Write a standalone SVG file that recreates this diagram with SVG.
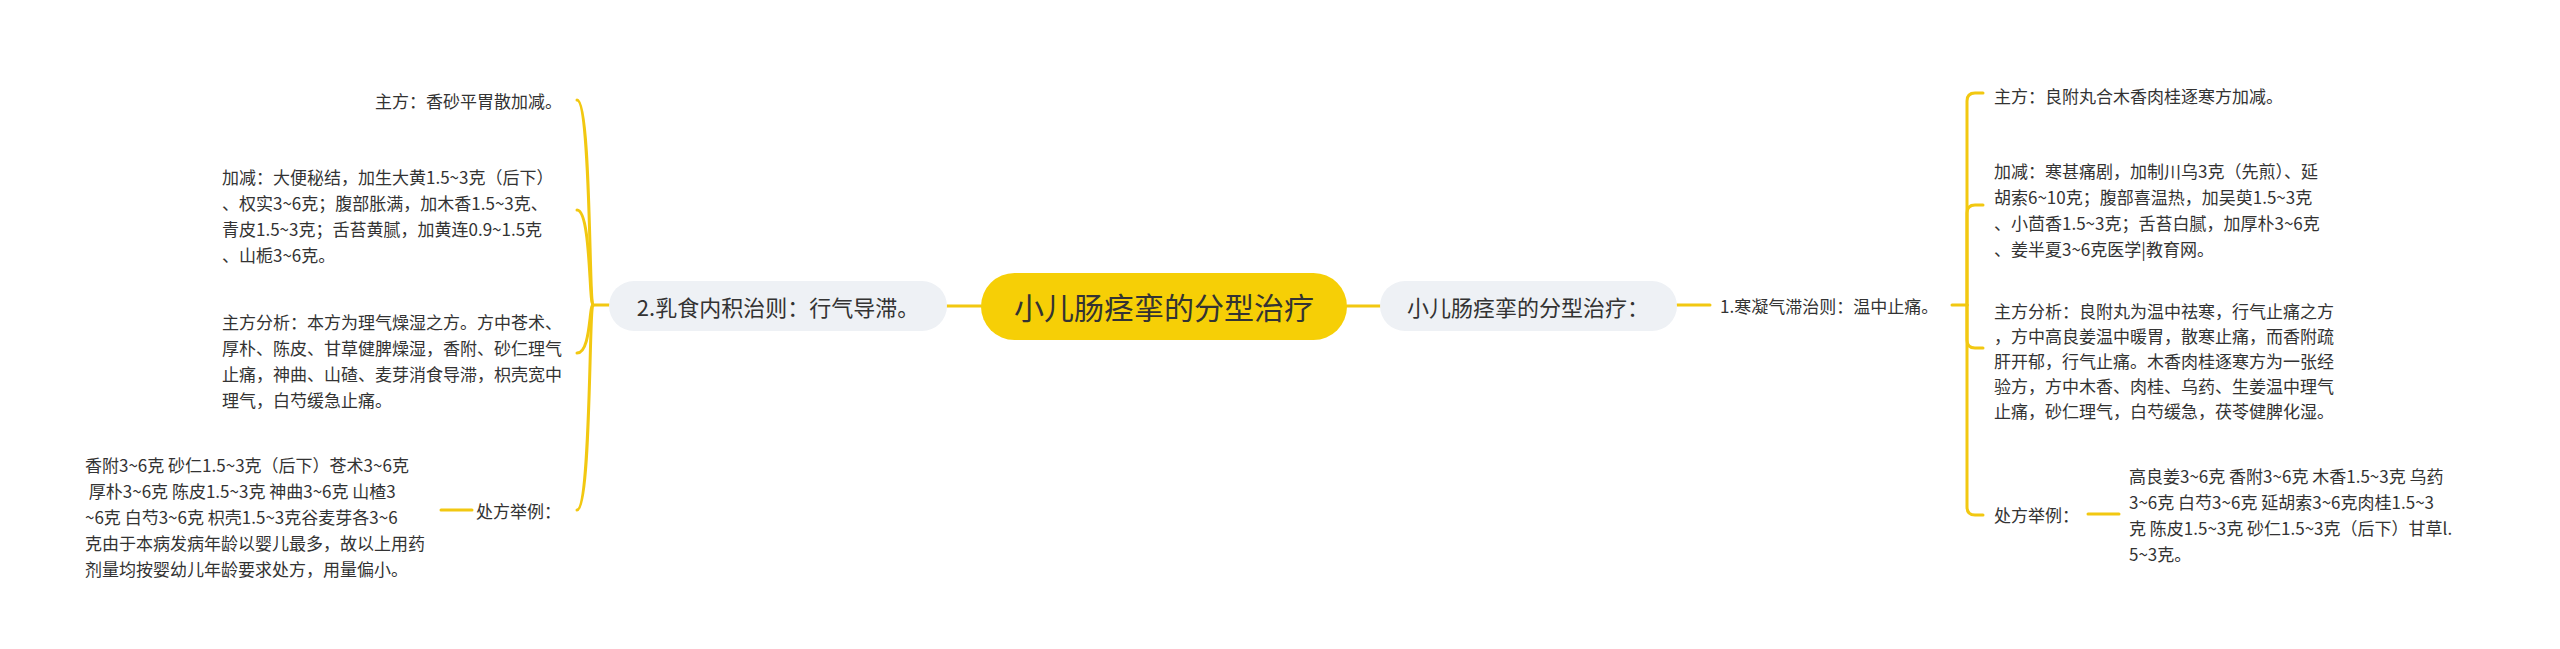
<svg xmlns="http://www.w3.org/2000/svg" width="2560" height="649" viewBox="0 0 2560 649">
<style>
text{font-family:"Noto Sans CJK SC","Liberation Sans",sans-serif;fill:#333;dominant-baseline:central;white-space:pre}
.t{font-size:17px}
.n{font-size:22px}
.c{font-size:30px}
.ln{fill:none;stroke:#F2C811;stroke-width:3;stroke-linecap:round}
.node{fill:#EEF1F5}
</style>
<rect width="2560" height="649" fill="#fff"/>
<g id="connectors">
<path class="ln" d="M947 306H981M1347 306H1380M1677 305H1710M1952 305H1967"/>
<path class="ln" d="M593 305H609"/>
<path class="ln" d="M593 305C589 305 591 100 577 100"/>
<path class="ln" d="M593 305C589 305 591 210 577 210"/>
<path class="ln" d="M593 305C589 305 591 353 577 353"/>
<path class="ln" d="M593 305C589 305 591 510 577 510"/>
<path class="ln" d="M1967 305V101Q1967 93 1975 93H1983"/>
<path class="ln" d="M1967 305V213Q1967 205 1975 205H1983"/>
<path class="ln" d="M1967 305V340Q1967 348 1975 348H1983"/>
<path class="ln" d="M1967 305V507Q1967 515 1975 515H1983"/>
<path class="ln" d="M441 510H472M2088 514H2119"/>
</g>
<g id="root">
<rect x="981" y="273" width="366" height="67" rx="33.5" fill="#F6CF06"/>
<text class="c" x="1164" y="306" text-anchor="middle">小儿肠痉挛的分型治疗</text>
</g>
<g id="left-branch">
<rect class="node" x="609" y="281" width="338" height="50" rx="25"/>
<text class="n" x="778" y="306" text-anchor="middle">2.乳食内积治则：行气导滞。</text>
</g>
<g id="right-branch">
<rect class="node" x="1380" y="281" width="297" height="50" rx="25"/>
<text class="n" x="1528" y="306" text-anchor="middle">小儿肠痉挛的分型治疗：</text>
</g>
<g id="r-sub">
<text class="t" x="1720" y="305">1.寒凝气滞治则：温中止痛。</text>
</g>
<g id="l-zhufang">
<text class="t" x="562" y="100" text-anchor="end">主方：香砂平胃散加减。</text>
</g>
<g id="l-jiajian">
<text class="t" x="222" y="176">加减：大便秘结，加生大黄1.5~3克（后下）</text>
<text class="t" x="222" y="202">、权实3~6克；腹部胀满，加木香1.5~3克、</text>
<text class="t" x="222" y="228">青皮1.5~3克；舌苔黄腻，加黄连0.9~1.5克</text>
<text class="t" x="222" y="254">、山栀3~6克。</text>
</g>
<g id="l-fenxi">
<text class="t" x="222" y="321">主方分析：本方为理气燥湿之方。方中苍术、</text>
<text class="t" x="222" y="347">厚朴、陈皮、甘草健脾燥湿，香附、砂仁理气</text>
<text class="t" x="222" y="373">止痛，神曲、山碴、麦芽消食导滞，枳壳宽中</text>
<text class="t" x="222" y="399">理气，白芍缓急止痛。</text>
</g>
<g id="l-chufang">
<text class="t" x="561" y="510" text-anchor="end">处方举例：</text>
</g>
<g id="l-chufang-detail">
<text class="t" x="85" y="464">香附3~6克 砂仁1.5~3克（后下）苍术3~6克</text>
<text class="t" x="85" y="490"> 厚朴3~6克 陈皮1.5~3克 神曲3~6克 山楂3</text>
<text class="t" x="85" y="516">~6克 白芍3~6克 枳壳1.5~3克谷麦芽各3~6</text>
<text class="t" x="85" y="542">克由于本病发病年龄以婴儿最多，故以上用药</text>
<text class="t" x="85" y="568">剂量均按婴幼儿年龄要求处方，用量偏小。</text>
</g>
<g id="r-zhufang">
<text class="t" x="1994" y="95">主方：良附丸合木香肉桂逐寒方加减。</text>
</g>
<g id="r-jiajian">
<text class="t" x="1994" y="170">加减：寒甚痛剧，加制川乌3克（先煎）、延</text>
<text class="t" x="1994" y="196">胡索6~10克；腹部喜温热，加吴萸1.5~3克</text>
<text class="t" x="1994" y="222">、小茴香1.5~3克；舌苔白腻，加厚朴3~6克</text>
<text class="t" x="1994" y="248">、姜半夏3~6克医学|教育网。</text>
</g>
<g id="r-fenxi">
<text class="t" x="1994" y="310">主方分析：良附丸为温中祛寒，行气止痛之方</text>
<text class="t" x="1994" y="335">，方中高良姜温中暖胃，散寒止痛，而香附疏</text>
<text class="t" x="1994" y="360">肝开郁，行气止痛。木香肉桂逐寒方为一张经</text>
<text class="t" x="1994" y="385">验方，方中木香、肉桂、乌药、生姜温中理气</text>
<text class="t" x="1994" y="410">止痛，砂仁理气，白芍缓急，茯苓健脾化湿。</text>
</g>
<g id="r-chufang">
<text class="t" x="1994" y="514">处方举例：</text>
</g>
<g id="r-chufang-detail">
<text class="t" x="2129" y="475">高良姜3~6克 香附3~6克 木香1.5~3克 乌药</text>
<text class="t" x="2129" y="501">3~6克 白芍3~6克 延胡索3~6克肉桂1.5~3</text>
<text class="t" x="2129" y="527">克 陈皮1.5~3克 砂仁1.5~3克（后下）甘草l.</text>
<text class="t" x="2129" y="553">5~3克。</text>
</g>
</svg>
